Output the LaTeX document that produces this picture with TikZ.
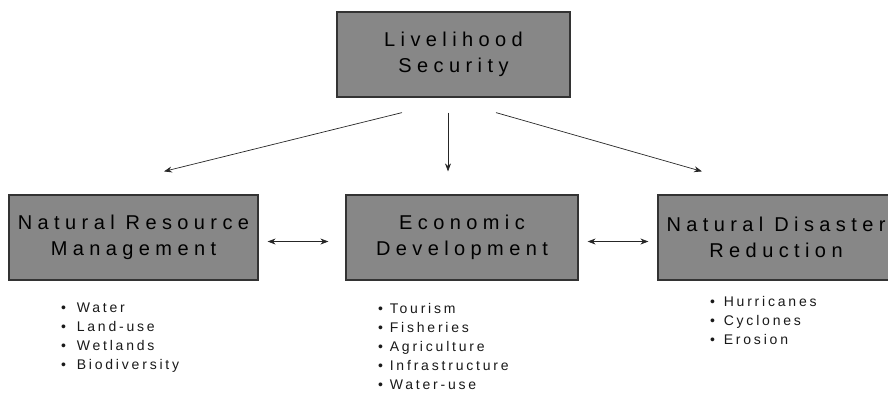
\documentclass[tikz,border=0pt]{standalone}
\usepackage{fontspec}
\setmainfont{Liberation Sans}
\newfontfamily\boxfont[LetterSpace=27]{Liberation Sans}
\newfontfamily\listfont[LetterSpace=20]{Liberation Sans}
\usetikzlibrary{arrows.meta,positioning,calc}
\newcommand{\itm}[1][0pt]{\textbullet\ \hspace{#1}}

\begin{document}
\begin{tikzpicture}[x=1pt, y=-1pt, >={Stealth[length=8pt,width=6pt]}]
        % Styles
        \tikzstyle{block} = [rectangle, draw=black!80, line width=1.2pt, fill=black!47, text=black, align=center, minimum height=85pt, inner sep=0pt, font=\boxfont\fontsize{20}{26}\selectfont]
        \tikzstyle{items} = [align=left, anchor=north west, inner sep=0pt, text=black!90, font=\listfont\fontsize{14}{19}\selectfont]
        \tikzstyle{line} = [draw, ->, line width=0.7pt, black!85]
        \tikzstyle{link} = [draw, <->, line width=0.7pt, black!85]

        \useasboundingbox (0,0) rectangle (888,392);

        % Nodes
        \node [block, minimum width=233pt] (liv) at (453.5,54.5) {Livelihood\\Security};
        \node [block, minimum width=249pt] (nrm) at (133.5,237.5) {Natural Resource\\Management};
        \node [block, minimum width=232pt] (eco) at (462,237.5) {Economic\\Development};
        \node [block, minimum width=236pt] (ndr) at (776,237.5) {Natural Disaster\\Reduction};

        % Lists
        \node [items] (nrmlist) at (61,303) {\itm[4pt]Water\\\itm[4pt]Land-use\\\itm[4pt]Wetlands\\\itm[4pt]Biodiversity};
        \node [items] (ecolist) at (378,303) {\itm Tourism\\\itm Fisheries\\\itm Agriculture\\\itm Infrastructure\\\itm Water-use};
        \node [items] (ndrlist) at (710,296) {\itm[2pt]Hurricanes\\\itm[2pt]Cyclones\\\itm[2pt]Erosion};

        % Edges
        \path [line] ([xshift=-51.5pt,yshift=-15pt]liv.south) -- ([xshift=30.5pt,yshift=23pt]nrm.north);
        \path [line] ([xshift=-5.5pt,yshift=-15pt]liv.south) -- ([xshift=-14pt,yshift=23pt]eco.north);
        \path [line] ([xshift=42.5pt,yshift=-15pt]liv.south) -- ([xshift=-74pt,yshift=23pt]ndr.north);
        \path [link] ([xshift=9pt,yshift=-4pt]nrm.east) -- ([xshift=-17pt,yshift=-4pt]eco.west);
        \path [link] ([xshift=9pt,yshift=-4pt]eco.east) -- ([xshift=-9pt,yshift=-4pt]ndr.west);

\end{tikzpicture}
\end{document}
